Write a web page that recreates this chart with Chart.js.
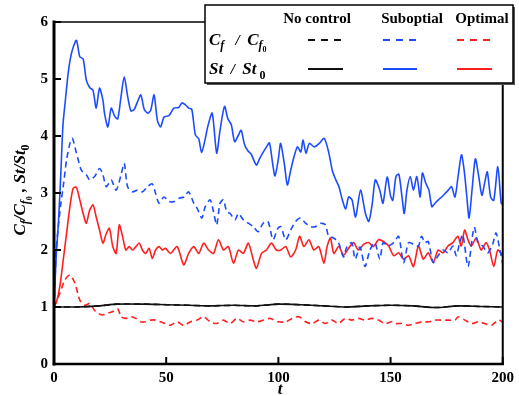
<!DOCTYPE html>
<html>
<head>
<meta charset="utf-8">
<script src="https://cdn.jsdelivr.net/npm/chart.js@4.4.0/dist/chart.umd.min.js"></script>
<style>
  html, body { margin: 0; padding: 0; background: #fff; }
  #wrap { width: 519px; height: 396px; }
</style>
</head>
<body>
<div id="wrap"><canvas id="chart" width="519" height="396"></canvas></div>
<script>
// axis ticks
const xTicks = [0, 50, 100, 150, 200];
const yTicks = [0, 1, 2, 3, 4, 5, 6];
const columns = ['No control', 'Suboptial', 'Optimal'];

// [t, value]
const noCf = [[0, 1], [10, 1.0], [20, 1.02], [28, 1.05], [40, 1.05], [50, 1.04], [60, 1.03], [70, 1.02], [80, 1.03],
  [90, 1.02], [100, 1.05], [110, 1.04], [120, 1.02], [130, 1.0], [140, 1.02], [150, 1.03], [160, 1.02], [170, 0.99],
  [180, 1.02], [190, 1.01], [200, 1.0]];
const noSt = [[0, 1], [10, 1.0], [20, 1.02], [28, 1.05], [40, 1.05], [50, 1.04], [60, 1.03], [70, 1.02], [80, 1.03],
  [90, 1.02], [100, 1.05], [110, 1.04], [120, 1.02], [130, 1.0], [140, 1.02], [150, 1.03], [160, 1.02], [170, 0.99],
  [180, 1.02], [190, 1.01], [200, 1.0]];

const subCf = [[0, 1], [1, 2.0], [1.9, 2.4], [3, 2.8], [4.1, 3.11], [5.6, 3.58], [7.1, 3.87], [8.2, 3.96], [10, 3.7],
  [12.2, 3.4], [14.4, 3.32], [15.9, 3.23], [18.1, 3.29], [20.3, 3.43], [21.8, 3.32], [23.3, 3.11], [25.5, 3.23],
  [27.7, 3.05], [29.9, 3.32], [31.3, 3.52], [32.8, 3.11], [35, 3.02], [37.2, 3.05], [39.4, 3.02], [41.6, 3.11],
  [43.8, 3.16], [45.3, 2.99], [46.8, 2.82], [49, 2.93], [51.4, 2.85], [53.6, 2.85], [55.8, 2.91], [58, 2.93],
  [60, 3.02], [62.3, 2.82], [63.8, 2.73], [65.9, 2.56], [67.4, 2.76], [69.6, 2.88], [71.1, 2.67], [72.5, 2.44],
  [74, 2.82], [75.5, 2.88], [77, 2.67], [78.5, 2.64], [80.7, 2.53], [82.2, 2.64], [84.4, 2.53], [86.6, 2.47],
  [88.8, 2.41], [91, 2.32], [93.2, 2.47], [95.4, 2.5], [97.6, 2.18], [99.8, 2.38], [101.1, 2.41], [103.3, 2.18],
  [105.5, 2.35], [107.7, 2.5], [109.9, 2.56], [112.1, 2.47], [114.3, 2.41], [116.6, 2.41], [118.8, 2.47], [121, 2.44],
  [122.4, 2.24], [124.6, 2.21], [126.8, 2.13], [129, 1.88], [130.5, 2.05], [132.7, 2.13], [134.2, 1.84], [136.4, 2.05],
  [138.6, 1.71], [140.8, 2.0], [143, 2.13], [145.2, 1.84], [146.7, 2.13], [148.9, 2.07], [151.4, 2.13], [153.6, 2.24],
  [155.8, 1.78], [158, 2.13], [160.2, 2.1], [162.4, 2.07], [163.8, 2.24], [165.3, 2.13], [166.8, 2.15], [169, 1.78],
  [171.2, 1.9], [173.4, 2.0], [175.6, 1.95], [177.8, 2.07], [179.3, 1.9], [180.8, 2.13], [182.2, 2.27], [184.5, 1.71],
  [186.7, 2.3], [187.4, 2.4], [188.9, 2.13], [191.1, 2.07], [193.3, 1.95], [195.5, 2.1], [197, 2.3], [198.4, 2.07],
  [200, 1.75]];

const subSt = [[0, 1], [1, 1.9], [2, 2.5], [3, 3.3], [4, 4.2], [5, 4.6], [6.3, 5.1], [7.5, 5.4], [8.5, 5.55], [10, 5.68],
  [11.5, 5.39], [13, 5.35], [14.4, 4.98], [15.9, 4.85], [17.4, 4.8], [18.8, 4.49], [20.3, 4.84], [21.8, 4.63],
  [22.5, 4.4], [24, 4.16], [25.5, 4.49], [27, 4.35], [28.4, 4.3], [29.9, 4.7], [31.3, 5.04], [32.8, 4.7], [34.3, 4.44],
  [35.8, 4.47], [37.2, 4.6], [38.7, 4.72], [40.2, 4.47], [41.7, 4.4], [43.1, 4.45], [44.6, 4.72], [46.1, 4.27],
  [47.5, 4.16], [49, 4.33], [51.3, 4.36], [53.4, 4.49], [55.6, 4.5], [57, 4.58], [58.5, 4.55], [60, 4.49], [61.4, 4.47],
  [63, 4.02], [64.5, 3.95], [65.8, 3.71], [67.4, 3.95], [68.5, 4.16], [70.5, 4.4], [72.5, 3.7], [74, 4.1], [76, 4.52],
  [77.5, 4.3], [79, 4.2], [80.5, 3.9], [82, 4.0], [83.4, 4.1], [84.9, 3.85], [86.4, 3.74], [87.9, 3.68], [90.2, 3.49],
  [91.6, 3.6], [93, 3.7], [94.6, 3.8], [96, 3.88], [97.5, 3.5], [98.5, 3.3], [100, 3.6], [101, 3.87], [102.7, 3.5],
  [104, 3.14], [105.5, 3.4], [107, 3.64], [108.5, 3.81], [110, 3.72], [111, 3.93], [112.3, 3.7], [113.8, 3.87],
  [116, 3.81], [118.2, 3.87], [120.4, 3.96], [122.4, 3.72], [124, 3.4], [125.6, 3.23], [127, 3.11], [128.5, 2.88],
  [130, 2.72], [131.3, 2.93], [132.8, 2.88], [134.4, 2.58], [136.6, 3.05], [138.8, 2.64], [140.3, 2.5], [141.8, 2.8],
  [143.2, 3.23], [145.2, 3.05], [146.6, 2.82], [148.5, 3.28], [150, 2.95], [151, 2.87], [152.4, 3.29], [153.7, 3.33],
  [155.1, 2.93], [156.1, 2.64], [157.3, 3.05], [158.8, 3.29], [160.2, 3.05], [161.7, 3.29], [163.2, 2.93],
  [164.2, 3.35], [165.7, 3.17], [167.1, 3.05], [168.4, 2.76], [169.8, 2.82], [171.3, 2.88], [172.8, 2.93],
  [174.3, 2.99], [175.7, 3.05], [177.2, 3.11], [178.7, 2.93], [180.1, 3.29], [181.6, 3.67], [182.8, 3.4], [184, 2.93],
  [185, 2.56], [186.3, 3.05], [187.8, 3.6], [189.3, 3.29], [190.7, 2.96], [191.9, 3.17], [193.1, 3.37], [194.6, 2.93],
  [196, 2.87], [197.8, 3.46], [199.3, 2.82], [200, 2.8]];

const optCf = [[0, 1], [2.6, 1.24], [4.8, 1.47], [7.1, 1.56], [9.3, 1.42], [11.5, 1.12], [13.7, 1.03], [15.9, 1.06],
  [18.1, 0.94], [19.6, 0.89], [21.8, 0.86], [24, 0.89], [26.2, 0.92], [28.4, 0.97], [29.9, 0.83], [32, 0.8],
  [34.3, 0.83], [36.5, 0.8], [38.7, 0.74], [40.9, 0.74], [43.1, 0.77], [45.3, 0.77], [47.5, 0.74], [49.7, 0.71],
  [51.9, 0.68], [54.9, 0.74], [57.8, 0.68], [60.8, 0.74], [63.8, 0.77], [66.7, 0.83], [69.6, 0.74], [72.5, 0.71],
  [75.5, 0.77], [78.5, 0.71], [81.5, 0.8], [84.4, 0.74], [87.4, 0.77], [90.3, 0.74], [93.3, 0.77], [96.2, 0.8],
  [99.9, 0.74], [103.3, 0.74], [106.2, 0.8], [109.2, 0.83], [112.1, 0.74], [115, 0.71], [118, 0.77], [120.9, 0.71],
  [123.9, 0.77], [126.8, 0.71], [129.8, 0.8], [132.7, 0.77], [135.7, 0.8], [138.6, 0.77], [141.6, 0.8], [144.6, 0.77],
  [147.5, 0.71], [150.4, 0.74], [152.2, 0.71], [155.1, 0.71], [158, 0.68], [161, 0.71], [164, 0.74], [166.9, 0.74],
  [169.9, 0.77], [172.8, 0.77], [175.8, 0.77], [178.7, 0.77], [180.2, 0.83], [183.2, 0.77], [186.1, 0.71],
  [189.1, 0.74], [192, 0.71], [195, 0.68], [197.9, 0.77], [200, 0.74]];

const optSt = [[0, 1], [1.2, 1.1], [2.6, 1.36], [4.1, 1.82], [5.6, 2.29], [7.1, 2.76], [8.5, 3.08], [10, 3.1],
  [11.5, 2.88], [13, 2.64], [14.4, 2.47], [15.9, 2.7], [17.4, 2.79], [18.8, 2.58], [20.3, 2.35], [21.8, 2.12],
  [23.3, 2.29], [24.7, 2.38], [26.2, 2.06], [27.7, 1.94], [29.1, 2.44], [30.6, 2.23], [32, 2.0], [33.5, 2.06], [35, 2.0],
  [36.5, 2.06], [38, 2.12], [39.4, 2.0], [40.9, 1.94], [42.4, 2.03], [43.8, 1.85], [45.3, 2.0], [46.8, 2.06], [48.3, 2.0],
  [49.7, 2.03], [51.9, 1.94], [54.9, 2.06], [57.8, 1.74], [60, 1.94], [62.3, 2.06], [64.5, 1.94], [66.7, 2.12],
  [68.9, 2.0], [71.1, 1.94], [73.3, 2.18], [75.5, 2.0], [77.7, 2.06], [80, 1.77], [82.2, 2.0], [84.4, 1.94], [86.6, 2.12],
  [88.8, 1.83], [90.2, 1.68], [92.5, 1.94], [94.7, 2.0], [96.9, 2.12], [99.1, 2.0], [101.1, 2.0], [103.3, 2.06],
  [105.5, 1.88], [107.7, 2.0], [109.5, 2.24], [111.4, 2.06], [113.6, 2.18], [115.8, 2.0], [118, 2.06], [120.3, 1.77],
  [121.7, 2.06], [123.2, 2.21], [124.7, 1.94], [126.9, 2.06], [129.1, 1.91], [131.3, 2.03], [133.5, 2.13], [135.7, 2.0],
  [138, 2.1], [140.2, 2.13], [142.4, 2.06], [144.6, 2.18], [146.8, 2.15], [149.2, 2.07], [151.4, 1.9], [153.6, 1.95],
  [155.8, 1.84], [158, 1.9], [160.2, 1.71], [162.4, 2.07], [164.6, 1.84], [166.8, 1.95], [169, 1.78], [171.2, 2.0],
  [173.4, 1.95], [175.6, 2.07], [177.8, 2.13], [180, 2.24], [181.5, 2.07], [183, 2.35], [184.5, 2.18], [186, 2.07],
  [188.2, 2.21], [190.4, 2.0], [192.6, 2.13], [194.1, 2.0], [196, 1.71], [197.8, 2.0], [200, 1.9]];

const BLACK = '#111111';
const BLUE = '#1d4cff';
const RED = '#ff1f1f';
const SERIF = '"Liberation Serif", "Times New Roman", serif';
const DASH = [6, 4];

function pts(pairs) {
  return pairs.map(p => ({ x: p[0], y: p[1] }));
}

function line(pairs, color, dashed) {
  return {
    data: pts(pairs),
    borderColor: color,
    borderWidth: 1.6,
    borderDash: dashed ? DASH : [],
    pointRadius: 0,
    tension: 0.25,
    fill: false
  };
}

function font(size, italic) {
  return (italic ? 'italic ' : '') + 'bold ' + size + 'px ' + SERIF;
}

// text made of runs with subscripts
function runsWidth(ctx, runs) {
  let w = 0;
  runs.forEach(r => { ctx.font = font(r.s, r.it); w += ctx.measureText(r.t).width; });
  return w;
}
function drawRuns(ctx, runs, x, y) {
  runs.forEach(r => {
    ctx.font = font(r.s, r.it);
    ctx.fillText(r.t, x, y + (r.dy || 0));
    x += ctx.measureText(r.t).width;
  });
}

const yTitle = [
  { t: 'C', s: 17, it: true }, { t: 'f', s: 12, it: true, dy: 4 }, { t: '/C', s: 17, it: true },
  { t: 'f', s: 12, it: true, dy: 4 }, { t: '0', s: 8, dy: 7 }, { t: ' , ', s: 17, it: true },
  { t: 'St/St', s: 17, it: true }, { t: '0', s: 12, dy: 4 }
];
const cfLabel = [
  { t: 'C', s: 17, it: true }, { t: 'f', s: 12, it: true, dy: 4 }, { t: '   /  ', s: 15, it: true },
  { t: 'C', s: 17, it: true }, { t: 'f', s: 12, it: true, dy: 4 }, { t: '0', s: 8, dy: 7 }
];
const stLabel = [
  { t: 'St', s: 17, it: true }, { t: '  /  ', s: 15, it: true }, { t: 'St', s: 17, it: true },
  { t: ' 0', s: 12, dy: 5 }
];

const decor = {
  id: 'decor',
  afterDatasetsDraw(chart) {
    const { ctx, chartArea: a, scales } = chart;
    ctx.save();
    ctx.strokeStyle = '#000';
    ctx.lineCap = 'square';
    // frame
    ctx.lineWidth = 1.5;
    ctx.beginPath(); ctx.moveTo(a.left, a.top); ctx.lineTo(a.right, a.top); ctx.stroke();
    ctx.lineWidth = 2;
    ctx.beginPath(); ctx.moveTo(a.right, a.top); ctx.lineTo(a.right, a.bottom); ctx.stroke();
    ctx.lineWidth = 2.5;
    ctx.beginPath(); ctx.moveTo(a.left, a.bottom); ctx.lineTo(a.right, a.bottom); ctx.stroke();
    ctx.lineWidth = 3;
    ctx.beginPath(); ctx.moveTo(a.left, a.top); ctx.lineTo(a.left, a.bottom); ctx.stroke();
    // inward ticks
    ctx.lineWidth = 2;
    ctx.lineCap = 'butt';
    yTicks.forEach(v => {
      const y = scales.y.getPixelForValue(v);
      ctx.beginPath(); ctx.moveTo(a.left, y); ctx.lineTo(a.left + 7, y); ctx.stroke();
    });
    xTicks.forEach(v => {
      const x = scales.x.getPixelForValue(v);
      ctx.beginPath(); ctx.moveTo(x, a.bottom); ctx.lineTo(x, a.bottom - 7); ctx.stroke();
    });
    ctx.restore();
  },
  afterDraw(chart) {
    const ctx = chart.ctx;
    ctx.save();
    ctx.fillStyle = '#000';
    ctx.textBaseline = 'alphabetic';

    // y title, rotated
    ctx.save();
    ctx.translate(25, 190);
    ctx.rotate(-Math.PI / 2);
    drawRuns(ctx, yTitle, -runsWidth(ctx, yTitle) / 2, 0);
    ctx.restore();

    // x title
    ctx.font = font(17, true);
    ctx.textAlign = 'center';
    ctx.fillText('t', 280, 394);

    // legend box
    const bx = 205, by = 5, bw = 308, bh = 78;
    ctx.fillStyle = '#555';
    ctx.fillRect(bx + 2, by + 2, bw, bh);
    ctx.fillStyle = '#fff';
    ctx.fillRect(bx, by, bw, bh);
    ctx.strokeStyle = '#000';
    ctx.lineWidth = 1.5;
    ctx.strokeRect(bx, by, bw, bh);

    ctx.fillStyle = '#000';
    ctx.font = font(15, false);
    ctx.textAlign = 'center';
    const headX = [317, 412, 482];
    columns.forEach((c, i) => ctx.fillText(c, headX[i], 23));

    ctx.textAlign = 'left';
    drawRuns(ctx, cfLabel, 209, 45);
    drawRuns(ctx, stLabel, 209, 74);

    const lineX = [[308, 343], [383, 417], [457, 492]];
    const colors = [BLACK, BLUE, RED];
    ctx.lineWidth = 1.8;
    lineX.forEach((lx, i) => {
      ctx.strokeStyle = colors[i];
      ctx.setLineDash([7, 6]);
      ctx.beginPath(); ctx.moveTo(lx[0], 40); ctx.lineTo(lx[1], 40); ctx.stroke();
      ctx.setLineDash([]);
      ctx.beginPath(); ctx.moveTo(lx[0], 69); ctx.lineTo(lx[1], 69); ctx.stroke();
    });
    ctx.restore();
  }
};

const tickFont = { family: SERIF, size: 15, weight: 'bold' };

new Chart(document.getElementById('chart'), {
  type: 'line',
  data: {
    datasets: [
      line(noCf, BLACK, true),
      line(noSt, BLACK, false),
      line(subCf, BLUE, true),
      line(subSt, BLUE, false),
      line(optCf, RED, true),
      line(optSt, RED, false)
    ]
  },
  options: {
    responsive: false,
    animation: false,
    layout: { padding: { left: 0, right: 12, top: 22, bottom: 0 } },
    plugins: { legend: { display: false }, tooltip: { enabled: false } },
    scales: {
      x: {
        type: 'linear', min: 0, max: 200,
        afterBuildTicks: s => { s.ticks = xTicks.map(v => ({ value: v })); },
        ticks: { font: tickFont, color: '#000', padding: 5, maxRotation: 0 },
        grid: { display: false, drawTicks: false },
        border: { display: false },
        afterFit: s => { s.height = 32; }
      },
      y: {
        min: 0, max: 6,
        afterBuildTicks: s => { s.ticks = yTicks.map(v => ({ value: v })); },
        ticks: { font: tickFont, color: '#000', padding: 6 },
        grid: { display: false, drawTicks: false },
        border: { display: false },
        afterFit: s => { s.width = 54; }
      }
    }
  },
  plugins: [decor]
});
</script>
</body>
</html>
